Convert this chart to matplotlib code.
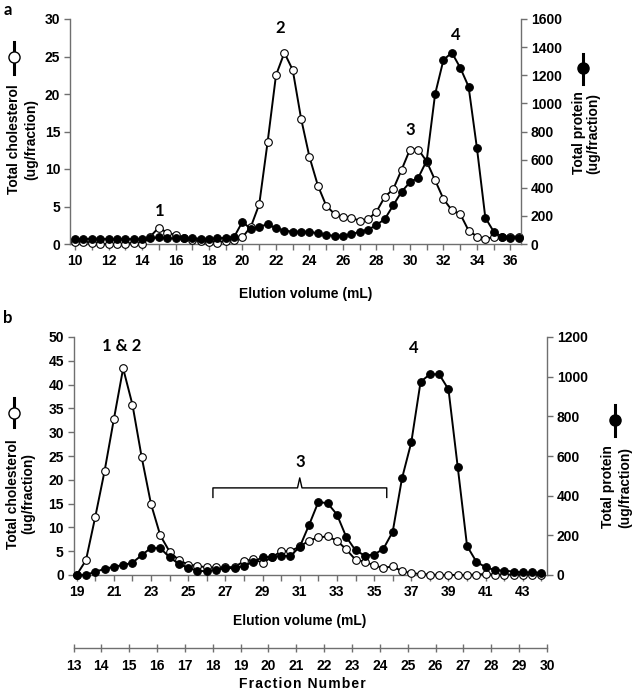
import matplotlib
matplotlib.use("Agg")
import matplotlib.pyplot as plt
from matplotlib.lines import Line2D
import numpy as np

# ---------------- data ----------------
# Panel a: elution volume (mL), fractions every 0.5 mL
vol_a = np.arange(10.0, 36.51, 0.5)
chol_a = [0.3, 0.3, 0.2, 0.0, 0.0, 0.0, 0.0, 0.2, 0.0, 1.0,
          2.2, 1.5, 1.2, 0.8, 0.5, 0.4, 0.3, 0.2, 0.4, 0.6,
          0.9, 2.3, 5.3, 13.6, 22.5, 25.5, 23.2, 16.7, 11.6, 7.8,
          5.1, 4.0, 3.6, 3.5, 3.1, 3.3, 4.3, 6.3, 7.3, 9.9,
          12.6, 12.6, 11.0, 8.5, 6.0, 4.5, 4.0, 1.8, 1.0, 0.7,
          0.9, 1.0, 1.0, 1.0]
prot_a = [35, 35, 38, 38, 35, 35, 35, 35, 35, 40,
          48, 40, 40, 40, 40, 38, 38, 40, 45, 50,
          159, 105, 123, 140, 112, 95, 88, 88, 88, 75,
          62, 60, 60, 68, 88, 102, 135, 178, 275, 372,
          439, 472, 593, 1065, 1309, 1361, 1254, 1119, 681, 187,
          88, 52, 44, 44]

# Panel b
vol_b = np.arange(19.0, 44.01, 0.5)
chol_b = [0.0, 3.1, 12.2, 21.8, 32.7, 43.4, 35.8, 24.7, 14.9, 8.3,
          4.9, 3.1, 2.2, 1.9, 1.6, 1.6, 1.6, 1.7, 2.9, 3.3,
          2.6, 3.7, 5.0, 5.0, 6.0, 7.2, 7.9, 8.1, 7.2, 5.4,
          3.2, 2.8, 2.0, 1.5, 1.8, 0.8, 0.4, 0.2, 0.1, 0.0,
          0.0, 0.0, 0.0, 0.1, 0.2, 0.1, 0.1, 0.1, 0.1, 0.1, 0.1]
prot_b = [0, 0, 17, 30, 42, 50, 62, 100, 137, 135,
          89, 56, 35, 22, 18, 27, 34, 35, 45, 67,
          89, 92, 96, 96, 142, 252, 368, 362, 305, 192,
          124, 98, 103, 132, 218, 487, 669, 974, 1012, 1012,
          936, 543, 146, 67, 39, 25, 22, 17, 13, 13, 12]

xt_a = list(range(10, 37, 2))
xt_b = list(range(19, 44, 2))
frac_ticks = list(range(13, 31))

peaks_a = [("1", 15.05, 4.4), ("2", 22.28, 28.8), ("3", 30.0, 15.2), ("4", 32.75, 27.9)]
peaks_b = [("1 & 2", 21.44, 48.2), ("4", 37.16, 47.6), ("3", 31.0, 23.7)]

# ---------------- style ----------------
W, H = 635, 696
FONT = "Liberation Sans"
plt.rcParams['font.family'] = [FONT, 'DejaVu Sans']
plt.rcParams['font.weight'] = 'bold'
SPC = '#6f6f6f'
TICK_FS = 10
LAB_FS = 10
YLAB_FS = 10
PEAK_FS = 12

fig = plt.figure(figsize=(W / 100, H / 100), dpi=100)


def rect(l, r, t, b):
    return [l / W, 1 - b / H, (r - l) / W, (b - t) / H]


def fx(x):
    return x / W


def fy(y):
    return 1 - y / H


def style_axes(ax):
    ax.spines['top'].set_visible(False)
    for s in ['left', 'right', 'bottom']:
        ax.spines[s].set_color(SPC)
        ax.spines[s].set_linewidth(1.0)
    ax.tick_params(direction='out', length=4, width=1.0, color=SPC,
                   labelsize=TICK_FS, pad=3)
    for lab in ax.get_xticklabels() + ax.get_yticklabels():
        lab.set_fontweight('bold')


def plot_panel(ax, ax2, vol, chol, prot):
    ax.plot(vol, chol, color='black', lw=1.4, marker='o', ms=5.5,
            mfc='white', mec='black', mew=0.8, zorder=3, clip_on=False)
    ax2.plot(vol, prot, color='black', lw=1.4, marker='o', ms=5.5,
             mfc='black', mec='black', mew=0.8, zorder=4, clip_on=False)


def ylabel_block(x1, x2, ycenter, text1, xm, ym, line_y0, line_y1, filled):
    fig.text(fx(x1), fy(ycenter), text1, rotation=90, ha='center', va='center',
             fontsize=YLAB_FS, fontweight='bold')
    fig.text(fx(x2), fy(ycenter), "(ug/fraction)", rotation=90, ha='center',
             va='center', fontsize=YLAB_FS, fontweight='bold')
    fig.add_artist(Line2D([fx(xm), fx(xm)], [fy(line_y0), fy(line_y1)],
                          color='black', lw=2.2, transform=fig.transFigure))
    fig.add_artist(Line2D([fx(xm)], [fy(ym)], marker='o', ms=8,
                          mfc='black' if filled else 'white', mec='black',
                          mew=1.0, transform=fig.transFigure))


# ---------------- panel a ----------------
ax_a = fig.add_axes(rect(70, 521, 19, 244))
ax_a2 = ax_a.twinx()
ax_a.set_xlim(9.7, 36.63)
ax_a.set_ylim(0, 30)
ax_a2.set_ylim(0, 1600)
ax_a.set_xticks(range(10, 37), minor=True)
ax_a.set_xticks(xt_a)
ax_a.set_yticks(range(0, 31, 5))
ax_a2.set_yticks(range(0, 1601, 200))
style_axes(ax_a)
style_axes(ax_a2)
ax_a.tick_params(axis='x', which='minor', direction='out', length=4, width=1.0, color=SPC)
ax_a2.spines['left'].set_visible(False)
ax_a2.spines['bottom'].set_visible(False)
ax_a.spines['right'].set_visible(False)
plot_panel(ax_a, ax_a2, vol_a, chol_a, prot_a)
for t, x, y in peaks_a:
    ax_a.text(x, y, t, ha='center', va='center', fontsize=PEAK_FS,
              fontweight='bold', family=['Lato', 'DejaVu Sans'])
fig.text(fx(306), fy(294), "Elution volume (mL)", ha='center', va='center',
         fontsize=LAB_FS, fontweight='bold')
fig.text(fx(8), fy(10), "a", ha='center', va='center', fontsize=12,
         fontweight='bold', family=['Lato', 'DejaVu Sans'])

ylabel_block(14, 31, 139, "Total cholesterol", 14, 57, 42, 74, False)
ylabel_block(579, 593, 133, "Total protein", 583, 68, 54, 84, True)

# ---------------- panel b ----------------
ax_b = fig.add_axes(rect(73.5, 547, 337, 575))
ax_b2 = ax_b.twinx()
ax_b.set_xlim(18.83, 44.3)
ax_b.set_ylim(0, 50)
ax_b2.set_ylim(0, 1200)
ax_b.set_xticks(range(19, 45), minor=True)
ax_b.set_xticks(xt_b)
ax_b.set_yticks(range(0, 51, 5))
ax_b2.set_yticks(range(0, 1201, 200))
style_axes(ax_b)
style_axes(ax_b2)
ax_b.tick_params(axis='x', which='minor', direction='out', length=4, width=1.0, color=SPC)
ax_b2.spines['left'].set_visible(False)
ax_b2.spines['bottom'].set_visible(False)
ax_b.spines['right'].set_visible(False)
plot_panel(ax_b, ax_b2, vol_b, chol_b, prot_b)
for t, x, y in peaks_b:
    ax_b.text(x, y, t, ha='center', va='center', fontsize=PEAK_FS,
              fontweight='bold', family=['Lato', 'DejaVu Sans'])
# bracket for peak 3
bx0, bx1, bxm = 26.33, 35.68, 31.0
by, byd, byu = 18.3, 16.3, 20.4
ax_b.plot([bx0, bx0, bxm - 0.12, bxm, bxm + 0.12, bx1, bx1],
          [byd, by, by, byu, by, by, byd], color='black', lw=1.0, zorder=5)

fig.text(fx(300), fy(621), "Elution volume (mL)", ha='center', va='center',
         fontsize=LAB_FS, fontweight='bold')
fig.text(fx(8), fy(318), "b", ha='center', va='center', fontsize=12,
         fontweight='bold', family=['Lato', 'DejaVu Sans'])

ylabel_block(13, 28, 494, "Total cholesterol", 14, 413, 398, 427, False)
ylabel_block(608, 625, 487, "Total protein", 615, 420, 405, 436, True)

# ---------------- fraction number axis ----------------
ax_f = fig.add_axes([fx(73.5), fy(648), fx(547) - fx(73.5), 0.0001])
ax_f.set_facecolor('none')
for s in ['top', 'left', 'right']:
    ax_f.spines[s].set_visible(False)
ax_f.spines['bottom'].set_color(SPC)
ax_f.spines['bottom'].set_linewidth(1.0)
ax_f.set_xlim(13, 30)
ax_f.set_xticks(frac_ticks)
ax_f.set_yticks([])
ax_f.tick_params(axis='x', direction='inout', length=6, width=1.0, color=SPC,
                 labelsize=TICK_FS, pad=5)
for lab in ax_f.get_xticklabels():
    lab.set_fontweight('bold')
frac_title = "\u200a".join("Fraction Number")
fig.text(fx(302), fy(684), frac_title, ha='center', va='center',
         fontsize=LAB_FS, fontweight='bold', family=[FONT, 'DejaVu Sans'])

fig.savefig("out.png", dpi=100)
